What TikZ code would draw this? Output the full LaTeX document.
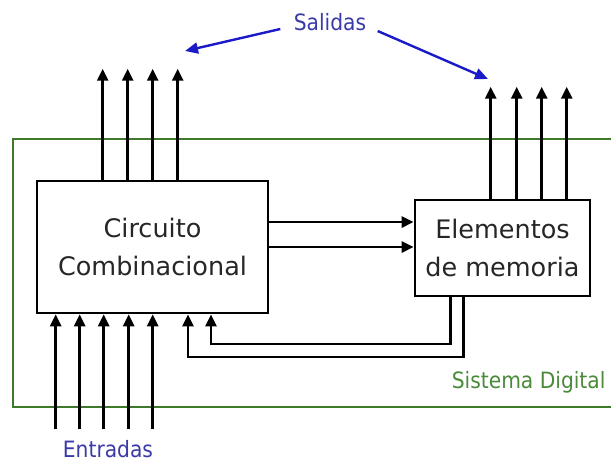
\documentclass[tikz,border=0pt]{standalone}
\usepackage{fontspec}
\setmainfont{DejaVu Sans}
\newfontfamily\condfont{DejaVu Sans Condensed}
\usepackage{tikz}
\usetikzlibrary{positioning, calc, arrows.meta}
\definecolor{sdBlueFg}{HTML}{1A1AC8}
\definecolor{sdBlueTxt}{HTML}{3A3AA8}
\definecolor{sdGreenFg}{HTML}{3F7A2A}
\definecolor{sdGreenTxt}{HTML}{4A8A3A}

\begin{document}
\begin{tikzpicture}[x=1pt, y=-1pt,
    blk/.style={draw, rectangle, line width=2.6pt, align=center, font=\fontsize{25.5}{38}\selectfont, text=black!85},
    sig/.style={-{Triangle[length=12pt, width=11pt]}, line width=2.6pt},
    lbl/.style={-{Triangle[length=13pt, width=11pt]}, line width=2.4pt, sdBlueFg},
    sysline/.style={draw, sdGreenFg, line width=2pt},
    tag/.style={font=\condfont\fontsize{22.5}{27}\selectfont},
]
\useasboundingbox (0,0) rectangle (611,463);
\draw[sysline] (13,139) rectangle (640,407);

\node[blk, minimum width=231pt, minimum height=132pt] (comb) at (152.5,247) {Circuito\\Combinacional};
\node[blk, minimum width=175pt, minimum height=96pt] (mem) at (502.5,248) {Elementos\\de memoria};

% salidas
\foreach \x in {67,92,117,142}
    \draw[sig] (comb.north west) ++(\x,0) -- ++(0,-111);
\foreach \x in {77,103,128,153}
    \draw[sig] (mem.north west) ++(\x,0) -- ++(0,-112);

% entradas
\foreach \x in {20,44,68,93,117}
    \draw[sig] (comb.south west) ++(\x,115) -- ++(0,-115);

% combinacional -> memoria
\draw[sig] (comb.east |- 0,222) -- (mem.west |- 0,222);
\draw[sig] (comb.east |- 0,247) -- (mem.west |- 0,247);

% realimentacion
\draw[sig] (mem.south west) ++(37,0) |- (211,344) -- (comb.south west -| 211,0);
\draw[sig] (mem.south west) ++(50,0) |- (188,357) -- (comb.south west -| 188,0);

\node[tag, text=sdBlueTxt] (sal) at (330,22) {Salidas};
\coordinate (salL) at (185,51);
\coordinate (salR) at (488,79);
\draw[lbl] ($(sal.west)+(-10,7)$) -- (salL);
\draw[lbl] ($(sal.east)+(8,9)$) -- (salR);

\node[tag, text=sdBlueTxt] (ent) at (108,449) {Entradas};
\node[tag, text=sdGreenTxt, anchor=east] (sys) at (609,382) {Sistema Digital};
\end{tikzpicture}
\end{document}
